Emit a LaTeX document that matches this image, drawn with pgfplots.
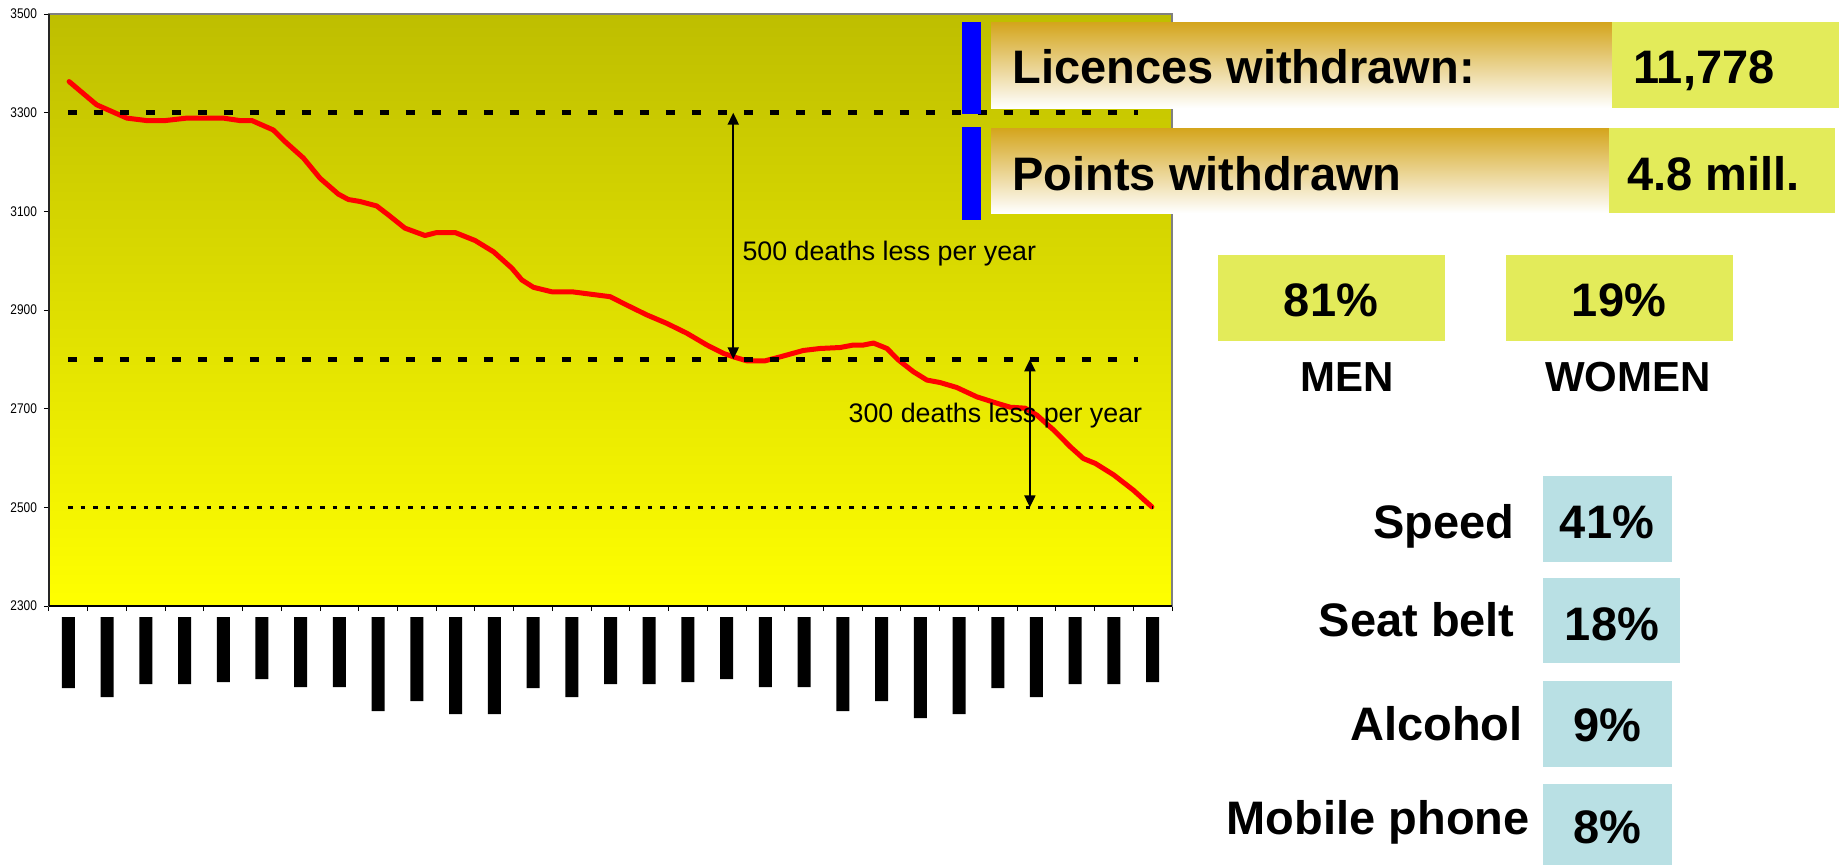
\documentclass[border=0pt]{standalone}
\usepackage{fontspec}
\setmainfont{Liberation Sans}
\newfontfamily\narrowfont[FakeStretch=0.85]{Liberation Sans}
\usepackage{pgfplots}
\pgfplotsset{compat=1.18}
\usetikzlibrary{arrows.meta}
\definecolor{plottop}{RGB}{190,190,0}
\definecolor{plotbot}{RGB}{255,255,0}
\definecolor{gold}{RGB}{212,165,28}
\definecolor{cream}{RGB}{238,216,172}
\definecolor{lime}{RGB}{227,235,90}
\definecolor{paleblue}{RGB}{185,224,228}
\newcommand\bigtxt{\fontsize{23.5}{28}\selectfont\bfseries}
\newcommand\midtxt{\fontsize{21}{25}\selectfont\bfseries}

\begin{document}
\begin{tikzpicture}
\useasboundingbox (0,0) rectangle (919.5pt,-432pt);

% main chart: road deaths, moving annual total
\begin{axis}[
    at={(24.5pt,-303pt)}, anchor=south west,
    width=561.5pt, height=296pt, scale only axis,
    xmin=0, xmax=29, ymin=2300, ymax=3500,
    xtick={0,...,29}, xticklabels={},
    ytick={2300,2500,...,3500},
    xtick pos=bottom, ytick pos=left,
    tick align=outside, major tick length=2.5pt,
    tick style={black, line width=0.5pt},
    axis line style={draw=gray, line width=1pt},
    axis background/.style={top color=plottop, bottom color=plotbot},
    yticklabel style={font=\narrowfont\fontsize{7}{8}\selectfont},
    /pgf/number format/assume math mode=true,
    /pgf/number format/1000 sep={},
    clip=false,
]
\draw[black!85, line width=1.2pt] (rel axis cs:0,0) -- (rel axis cs:0,1);
\draw[black, line width=1pt] (rel axis cs:0,0) -- (rel axis cs:1,0);

\addplot[red, line width=2.5pt, line join=round, line cap=round] coordinates {
(0.52,3363)(1.23,3316)(2.01,3289)(2.52,3284)(3.00,3284)(3.56,3289)(4.50,3289)
(4.93,3284)(5.24,3284)(5.79,3265)(6.10,3241)(6.57,3208)(7.00,3167)(7.47,3135)
(7.73,3124)(8.03,3120)(8.46,3111)(8.76,3093)(9.19,3066)(9.71,3051)(10.01,3057)
(10.49,3057)(11.00,3041)(11.48,3018)(11.95,2985)(12.21,2961)(12.51,2946)
(12.98,2937)(13.50,2937)(14.49,2927)(14.92,2910)(15.44,2890)(15.95,2873)
(16.47,2853)(16.99,2829)(17.42,2812)(17.72,2804)(18.02,2797)(18.49,2797)
(18.88,2805)(19.48,2818)(19.91,2822)(20.43,2824)(20.77,2829)(21.03,2829)
(21.29,2833)(21.64,2822)(21.93,2799)(22.32,2775)(22.67,2758)(23.01,2753)
(23.44,2743)(23.96,2724)(24.48,2711)(24.82,2703)(25.21,2701)(25.51,2687)
(25.94,2657)(26.37,2623)(26.71,2599)(27.02,2589)(27.49,2566)(28.00,2535)
(28.48,2501)};

% reference levels
\addplot[black, line width=2.2pt, dash pattern=on 4.5pt off 8.5pt] coordinates {(0.49,3300)(28.12,3300)};
\addplot[black, line width=2.2pt, dash pattern=on 4.5pt off 8.5pt] coordinates {(0.49,2800)(28.12,2800)};
\addplot[black, line width=1.6pt, dash pattern=on 2.3pt off 4pt] coordinates {(0.49,2500)(28.5,2500)};

\draw[line width=1pt, {Triangle[width=5.5pt,length=6pt]}-{Triangle[width=5.5pt,length=6pt]}]
    (axis cs:17.67,3300) -- (axis cs:17.67,2800);
\draw[line width=1pt, {Triangle[width=5.5pt,length=6pt]}-{Triangle[width=5.5pt,length=6pt]}]
    (axis cs:25.33,2800) -- (axis cs:25.33,2500);
\node[anchor=base west, inner sep=0pt, font=\fontsize{13.4}{16}\selectfont]
    at (axis cs:17.90,3001) {500 deaths less per year};
\node[anchor=base west, inner sep=0pt, font=\fontsize{13.4}{16}\selectfont]
    at (axis cs:20.64,2671) {300 deaths less per year};
\end{axis}

% blacked-out month labels under the axis
\begin{axis}[
    at={(24.5pt,-308.5pt)}, anchor=north west,
    width=561.5pt, height=60pt, scale only axis,
    xmin=0, xmax=29, ymin=0, ymax=120, y dir=reverse,
    hide axis, ybar, bar width=6.5pt, bar shift=0pt,
]
\addplot[fill=black, draw=none] coordinates {
(0.5,71)(1.5,80)(2.5,67)(3.5,67)(4.5,65)(5.5,62)(6.5,70)(7.5,70)(8.5,94)(9.5,84)
(10.5,97)(11.5,97)(12.5,71)(13.5,80)(14.5,67)(15.5,67)(16.5,65)(17.5,62)(18.5,70)
(19.5,70)(20.5,94)(21.5,84)(22.5,101)(23.5,97)(24.5,71)(25.5,80)(26.5,67)(27.5,67)
(28.5,65)};
\end{axis}

% right-hand panel, in pixel units from the top left
\begin{scope}[x=0.5pt,y=-0.5pt]
\fill[blue] (962,22) rectangle (981,114);
\fill[blue] (962,127) rectangle (981,220);
\shade[top color=gold, middle color=cream, bottom color=white] (991,22) rectangle (1612,108);
\shade[top color=gold, middle color=cream, bottom color=white] (991,128) rectangle (1609,213);
\fill[lime] (1612,22) rectangle (1839,108);
\fill[lime] (1609,128) rectangle (1835,213);
\node[anchor=base west, inner sep=0pt, font=\bigtxt] at (1012,83) {Licences withdrawn:};
\node[anchor=base west, inner sep=0pt, font=\bigtxt] at (1633,83) {11,778};
\node[anchor=base west, inner sep=0pt, font=\bigtxt] at (1012,190) {Points withdrawn};
\node[anchor=base west, inner sep=0pt, font=\bigtxt] at (1627,190) {4.8 mill.};

\fill[lime] (1218,255) rectangle (1445,341);
\fill[lime] (1506,255) rectangle (1733,341);
\node[anchor=base, inner sep=0pt, font=\bigtxt] at (1331,316) {81\%};
\node[anchor=base, inner sep=0pt, font=\bigtxt] at (1619,316) {19\%};
\node[anchor=base, inner sep=0pt, font=\midtxt] at (1347,391) {MEN};
\node[anchor=base, inner sep=0pt, font=\midtxt] at (1628,391) {WOMEN};

\fill[paleblue] (1543,476) rectangle (1672,562);
\fill[paleblue] (1543,578) rectangle (1680,663);
\fill[paleblue] (1543,681) rectangle (1672,767);
\fill[paleblue] (1543,784) rectangle (1672,880);
\node[anchor=base east, inner sep=0pt, font=\bigtxt] at (1515,538) {Speed};
\node[anchor=base east, inner sep=0pt, font=\bigtxt] at (1515,636) {Seat belt};
\node[anchor=base east, inner sep=0pt, font=\bigtxt] at (1523,740) {Alcohol};
\node[anchor=base east, inner sep=0pt, font=\bigtxt] at (1530,834) {Mobile phone};
\node[anchor=base, inner sep=0pt, font=\bigtxt] at (1607,538) {41\%};
\node[anchor=base, inner sep=0pt, font=\bigtxt] at (1612,640) {18\%};
\node[anchor=base, inner sep=0pt, font=\bigtxt] at (1607,741) {9\%};
\node[anchor=base, inner sep=0pt, font=\bigtxt] at (1607,843) {8\%};
\end{scope}
\end{tikzpicture}
\end{document}
